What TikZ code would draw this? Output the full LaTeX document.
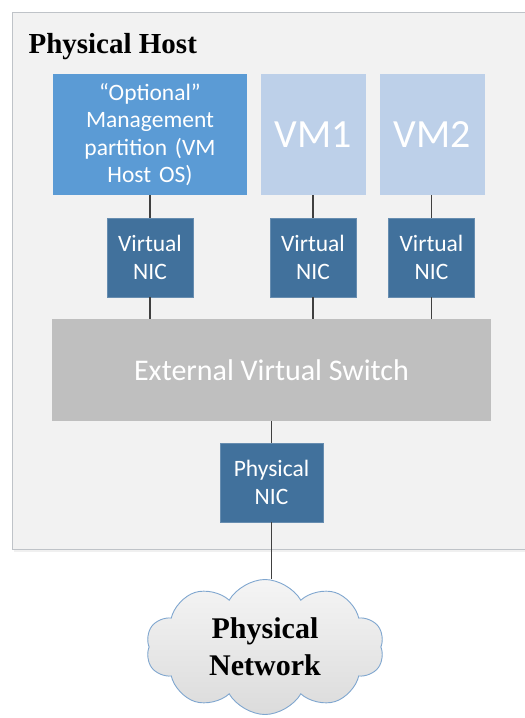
\documentclass[tikz,border=0pt]{standalone}
\usepackage{fontspec}
\setmainfont{Liberation Serif}
\newfontfamily\calib{Carlito}
\usetikzlibrary{shapes.symbols}
\definecolor{hostbg}{HTML}{F2F2F2}
\definecolor{hostline}{HTML}{BFC3C8}
\definecolor{mgmtblue}{HTML}{5B9BD5}
\definecolor{vmblue}{HTML}{BDD0E9}
\definecolor{nicblue}{HTML}{41719C}
\definecolor{switchgray}{HTML}{BFBFBF}
\definecolor{wire}{HTML}{404040}
\definecolor{cloudline}{HTML}{7FA6CF}
\tikzset{
  box/.style={draw=none, inner sep=2pt, align=center, text=white, font=\calib\fontsize{23.5}{27.5}\selectfont},
  nicbox/.style={box, fill=nicblue, draw=nicblue!80!white, minimum width=86pt, minimum height=79pt},
  vmbox/.style={box, fill=vmblue, minimum width=105pt, minimum height=121pt, font=\calib\fontsize{40}{44}\selectfont},
  wirestyle/.style={draw=wire, line width=1.1pt}
}
\begin{document}
\begin{tikzpicture}[x=1pt,y=-1pt]
\useasboundingbox (0,0) rectangle (525,718);
% host enclosure
\fill[black!6] (14,14) rectangle (530,552);
\draw[hostline, fill=hostbg, line width=0.8pt] (12,12) rectangle (530,549);
\node[anchor=base west, font=\bfseries\fontsize{29}{33}\selectfont] (title) at (25,53) {Physical Host};

% guest partitions
\node[box, fill=mgmtblue, minimum width=194pt, minimum height=121pt, text width=190pt] (mgmt) at (150,134.5)
  {“Optional”\\Management\\partition (VM\\Host OS)};
\node[vmbox] (vm1) at (313.5,134.5) {VM1};
\node[vmbox] (vm2) at (432,134.5) {VM2};

% virtual NICs
\node[nicbox] (nic1) at (150,257.5) {Virtual\\NIC};
\node[nicbox] (nic2) at (313,257.5) {Virtual\\NIC};
\node[nicbox] (nic3) at (431.5,257.5) {Virtual\\NIC};

% switch
\node[box, fill=switchgray, minimum width=439pt, minimum height=102pt, font=\calib\fontsize{30}{34}\selectfont] (sw) at (271.5,370) {External Virtual Switch};

% physical NIC
\node[nicbox, minimum width=103pt] (pnic) at (271.5,482.5) {Physical\\NIC};

% network cloud
\node[cloud, cloud puffs=10, cloud puff arc=120, aspect=1.75, draw=cloudline, line width=0.9pt,
      top color=white!92!gray, bottom color=gray!28, minimum width=238pt, minimum height=135pt,
      inner sep=0pt, align=center, font=\bfseries\fontsize{30}{37}\selectfont] (net) at (265,647)
  {Physical\\Network};

% links
\draw[wirestyle] (mgmt.south) -- (nic1.north);
\draw[wirestyle] (vm1.south -| nic2.north) -- (nic2.north);
\draw[wirestyle] (vm2.south -| nic3.north) -- (nic3.north);
\draw[wirestyle] (nic1.south) -- (nic1.south |- sw.north);
\draw[wirestyle] (nic2.south) -- (nic2.south |- sw.north);
\draw[wirestyle] (nic3.south) -- (nic3.south |- sw.north);
\draw[wirestyle] (sw.south -| pnic.north) -- (pnic.north);
\draw[wirestyle] (pnic.south) -- (pnic.south |- net.north);
\end{tikzpicture}
\end{document}
